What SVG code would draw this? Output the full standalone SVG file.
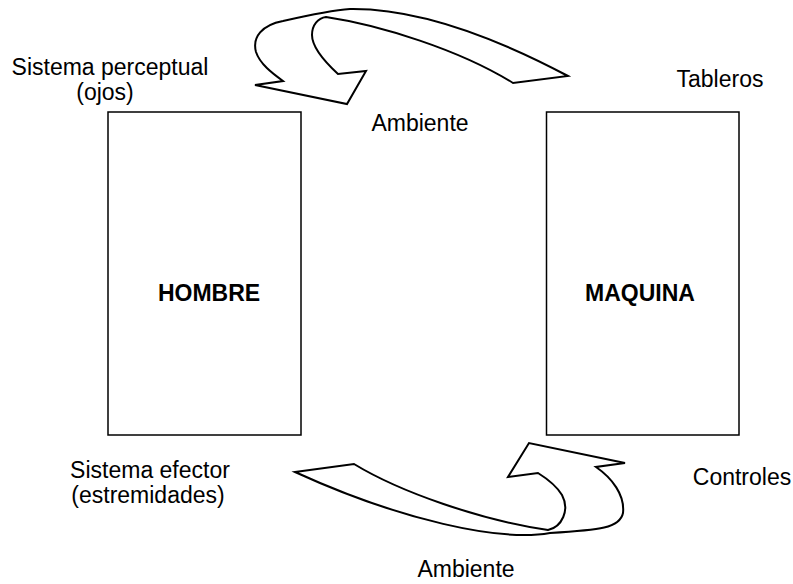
<svg xmlns="http://www.w3.org/2000/svg" width="793" height="584" viewBox="0 0 793 584">
<style>
text{font-family:"Liberation Sans",Arial,sans-serif;font-size:23px;fill:#000}
.b{font-weight:bold}
.box{fill:#fff;stroke:#000;stroke-width:1.5}
.arr{fill:#fff;stroke:#000;stroke-width:2;stroke-linejoin:miter}
</style>
<rect width="793" height="584" fill="#fff"/>
<g id="hombre">
<rect class="box" x="108" y="112" width="193" height="323"/>
<text class="b" x="209" y="301" text-anchor="middle">HOMBRE</text>
</g>
<g id="maquina">
<rect class="box" x="546.5" y="112" width="192.5" height="323"/>
<text class="b" x="640" y="301" text-anchor="middle">MAQUINA</text>
</g>
<g id="labels">
<text x="110" y="75" text-anchor="middle">Sistema perceptual</text>
<text x="105" y="100" text-anchor="middle">(ojos)</text>
<text x="720" y="87" text-anchor="middle">Tableros</text>
<text x="420" y="131" text-anchor="middle">Ambiente</text>
<text x="150" y="478" text-anchor="middle">Sistema efector</text>
<text x="148" y="503" text-anchor="middle">(estremidades)</text>
<text x="742" y="485" text-anchor="middle">Controles</text>
<text x="466" y="577" text-anchor="middle">Ambiente</text>
</g>
<g id="connectors">
<path class="arr" d="M568,76 C500,40 420,8 350,9 C335,10 305,16 283,21 C262,25 252,37 256,52 C260,64 272,73 283,81 L255,85 L347,104 L366,71 L338,74 C325,62 312,48 312,35 C312,25 318,18 326,17 C380,25 460,50 513,83 Z"/>
<path class="arr" d="M295,472 L354,464 C400,492 480,520 548,530 C562,527 570,510 562,495 C556,485 546,478 538,473 L508,477 L529,443 L625,463 L596,467 C612,478 625,495 623,513 C620,528 600,530 550,533 C500,542 400,520 295,472 Z"/>
</g>
</svg>
